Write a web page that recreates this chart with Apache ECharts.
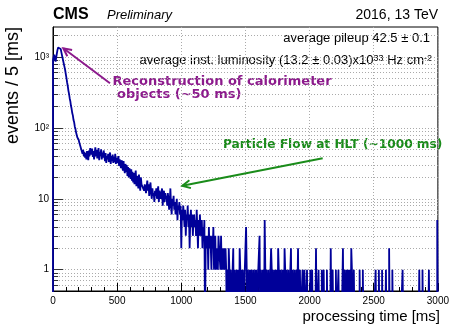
<!DOCTYPE html>
<html><head><meta charset="utf-8">
<script src="https://cdn.jsdelivr.net/npm/echarts@6/dist/echarts.min.js"></script>
<style>html,body{margin:0;padding:0;background:#fff}#c{width:452px;height:324px}</style>
</head><body><div id="c"></div>
<script>
// ---- data ----
const binWidth = 5; // ms, bins start at 0
const counts = [
  900,1000,1080,950,860,980,1120,1260,1360,1400,1430,1390,1300,1170,1060,960,870,790,720,650,
  570,505,438,390,336,302,262,238,205,186,162,149,129,120,104,97,86,83,73,71,
  68,62,58,55,50,47,43,49,40,46,38,44,36,47,41,35,48,40,52,42,
  45,51,39,47,36,44,53,40,49,37,43,52,35,46,40,50,36,45,38,48,
  41,34,44,32,40,36,43,33,39,45,31,40,34,42,32,39,33,43,31,38,
  37,32,40,29,36,30,27,35,28,25,34,26,23,31,24,30,21,28,20,27,
  25,19,26,18,24,17,23,16,22,25,15,21,18,14,22,17,13,20,16,15,
  15,17,13,16,14,12,15,18,13,16,11,14,17,12,10,14,11,12,9,13,
  11,14,10,12,15,9,13,11,10,12,14,8,11,13,9,12,10,11,8,12,
  10,7,9,14,8,6,10,8,11,7,9,6,8,10,5,8,7,9,6,8,
  2,7,5,8,6,4,7,3,6,5,8,4,6,2,5,7,4,6,3,5,
  6,4,5,3,7,4,2,5,3,6,4,3,5,2,4,3,5,0,2,3,
  2,3,1,4,2,3,2,1,3,2,4,1,2,3,1,2,2,1,3,2,
  2,1,3,1,2,1,2,1,1,2,1,0,1,0,2,1,0,1,1,0,
  1,2,0,1,1,0,1,0,1,1,0,2,1,0,1,0,1,1,0,1,
  1,4,1,0,1,1,0,1,0,1,1,0,1,1,0,1,0,1,1,0,
  1,1,3,0,1,1,0,1,1,0,5,1,0,1,1,0,1,1,0,1,
  2,1,0,1,1,0,1,0,1,1,0,2,1,0,1,1,0,1,0,1,
  0,2,1,0,1,1,0,1,0,0,1,2,0,1,0,0,1,0,0,1,
  0,0,2,0,0,1,0,0,0,1,0,0,1,0,0,0,1,0,0,0,
  0,1,0,0,1,0,0,0,0,0,2,0,0,0,1,0,0,0,0,1,
  0,0,1,0,0,0,0,1,0,0,0,0,0,2,0,0,1,0,0,0,
  0,1,0,0,0,1,0,0,0,0,0,0,2,0,0,1,0,0,1,0,
  1,0,1,1,0,2,1,1,0,1,0,0,0,0,0,0,0,0,1,0,
  0,0,0,1,0,0,0,0,0,0,0,0,0,0,0,0,0,0,0,0,
  0,0,0,1,0,0,0,0,1,0,0,0,0,1,0,0,0,0,0,1,
  0,0,0,0,2,0,0,0,0,1,0,0,0,0,0,0,0,0,0,0,
  0,0,0,0,0,1,0,0,0,0,0,0,0,0,0,0,0,0,0,0,
  0,0,0,0,0,0,0,0,0,0,0,1,0,0,0,0,1,0,0,0,
  0,0,0,0,0,0,1,0,0,0,0,0,0,0,0,0,0,0,0,5
];
const xMin = 0, xMax = 3000, xStep = 500;
const yMin = 0.5, yMax = 2650;
const yDecadeLabels = {'0':'1','1':'10','2':'10\u00b2','3':'10\u00b3'};
const yGridValues = [0.6,0.7,0.8,0.9,1,2,3,4,5,6,7,8,9,10,20,30,40,50,60,70,80,90,100,200,300,400,500,600,700,800,900,1000,2000];

// ---- build ----
const floorVal = yMin * 0.3; // zero bins drawn to below frame (clipped)
const pts = [[xMin, floorVal]];
counts.forEach((c, i) => pts.push([i * binWidth, c > 0 ? c : floorVal]));
pts.push([counts.length * binWidth, counts[counts.length-1] > 0 ? counts[counts.length-1] : floorVal]);
pts.push([counts.length * binWidth, floorVal]);

const histColor = '#000099';
const purple = '#8c1a8c';
const green = '#1a8c1a';
const SANS = '"Liberation Sans", Arial, Helvetica, sans-serif';
const BOLDF = '"DejaVu Sans", sans-serif';

function arrow(x1, y1, x2, y2, color) {
  const dx = x2 - x1, dy = y2 - y1, L = Math.hypot(dx, dy);
  const ux = dx / L, uy = dy / L, px = -uy, py = ux;
  const hl = 8, hw = 4;
  return [
    {type:'line', shape:{x1, y1, x2, y2}, style:{stroke:color, lineWidth:2}, silent:true, z:100},
    {type:'polyline', shape:{points:[[x2 - hl*ux + hw*px, y2 - hl*uy + hw*py],[x2, y2],[x2 - hl*ux - hw*px, y2 - hl*uy - hw*py]]},
     style:{stroke:color, lineWidth:2, fill:null}, silent:true, z:100}
  ];
}

const chart = echarts.init(document.getElementById('c'), null, {renderer:'canvas'});
const option = {
  animation: false,
  backgroundColor: '#fff',
  grid: {left: 53, right: 13, top: 27, bottom: 33, show: true, borderColor: '#000', borderWidth: 1, backgroundColor:'transparent'},
  xAxis: {
    type: 'value', min: xMin, max: xMax, interval: xStep,
    axisLine: {show: true, lineStyle: {color: '#000', width: 1}},
    axisTick: {show: true, inside: true, length: 8, lineStyle: {color: '#000'}},
    minorTick: {show: true, splitNumber: 5, length: 4, lineStyle: {color: '#000'}},
    axisLabel: {color: '#000', fontSize: 10, fontFamily: SANS, margin: 5, formatter: v => String(v)},
    splitLine: {show: true, lineStyle: {color: '#aaa', type: [1, 2], width: 1}}
  },
  yAxis: {
    type: 'log', logBase: 10, min: yMin, max: yMax,
    axisLine: {show: true, lineStyle: {color: '#000', width: 1}},
    axisTick: {show: false},
    axisLabel: {
      color: '#000', fontSize: 10, fontFamily: SANS, margin: 4,
      formatter: function (v) {
        const l = Math.log10(v), r = Math.round(l);
        if (Math.abs(l - r) < 1e-6 && yDecadeLabels[String(r)] !== undefined) return yDecadeLabels[String(r)];
        return '';
      }
    },
    splitLine: {show: false}
  },
  series: [
    {
      type: 'line', data: [[xMin, 1]], symbol: 'none', lineStyle: {opacity: 0}, silent: true, z: 1,
      markLine: {
        silent: true, symbol: ['none', 'none'], label: {show: false}, animation: false,
        lineStyle: {color: '#aaa', type: [1, 2], width: 1},
        data: yGridValues.map(v => ({yAxis: v}))
      }
    },
    {
      type: 'line', data: [[xMin, 1]], symbol: 'none', lineStyle: {opacity: 0}, silent: true, z: 3,
      markLine: {
        silent: true, symbol: ['none', 'none'], label: {show: false}, animation: false,
        lineStyle: {color: '#333', type: 'solid', width: 1},
        data: yGridValues.map(v => {
          const major = Math.abs(Math.log10(v) - Math.round(Math.log10(v))) < 1e-6;
          return [{coord: [xMin, v]}, {coord: [xMin + (major ? 80 : 40), v]}];
        })
      }
    },
    {
      type: 'line', data: pts, step: 'end', symbol: 'none', showSymbol: false, clip: true,
      lineStyle: {color: histColor, width: 1.8}, z: 5, silent: true
    }
  ],
  graphic: [
    {type:'text', x:53, y:14.2, style:{text:'CMS', font:'bold 16px '+SANS, fill:'#000', textAlign:'left', textVerticalAlign:'middle'}},
    {type:'text', x:107, y:15.8, style:{text:'Preliminary', font:'italic 13px '+SANS, fill:'#000', textAlign:'left', textVerticalAlign:'middle'}},
    {type:'text', x:438, y:15, style:{text:'2016, 13 TeV', font:'14px '+SANS, fill:'#000', textAlign:'right', textVerticalAlign:'middle'}},
    {type:'text', x:430, y:38.6, style:{text:'average pileup 42.5 \u00b1 0.1', font:'13px '+SANS, fill:'#000', textAlign:'right', textVerticalAlign:'middle'}},
    {type:'text', x:432, y:60.3, style:{
      text:'average inst. luminosity (13.2 \u00b1 0.03)x10{sup|33} Hz cm{sup|-2}',
      font:'13px '+SANS, fill:'#000', textAlign:'right', textVerticalAlign:'middle',
      rich:{sup:{fontSize:9, fontFamily:SANS, fill:'#000', verticalAlign:'top'}}
    }},
    {type:'text', x:112.5, y:81.3, style:{text:'Reconstruction of calorimeter', font:'bold 13px '+BOLDF, fill:purple, textAlign:'left', textVerticalAlign:'middle'}},
    {type:'text', x:117, y:94.8, style:{text:'objects (~50 ms)', font:'bold 13px '+BOLDF, fill:purple, textAlign:'left', textVerticalAlign:'middle'}},
    {type:'text', x:223, y:145.3, style:{text:'Particle Flow at HLT (~1000 ms)', font:'bold 12.2px '+BOLDF, fill:green, textAlign:'left', textVerticalAlign:'middle'}},
    ...arrow(110, 83.3, 63.3, 48.3, purple),
    ...arrow(322.7, 158.3, 182.3, 185.7, green),
    {type:'text', x:440, y:316.6, style:{text:'processing time [ms]', font:'15px '+SANS, fill:'#000', textAlign:'right', textVerticalAlign:'middle'}},
    {type:'text', x:13, y:27, rotation:Math.PI/2, style:{text:'events / 5 [ms]', font:'18px '+SANS, fill:'#000', textAlign:'right', textVerticalAlign:'middle'}}
  ]
};
chart.setOption(option);
</script>
</body></html>
